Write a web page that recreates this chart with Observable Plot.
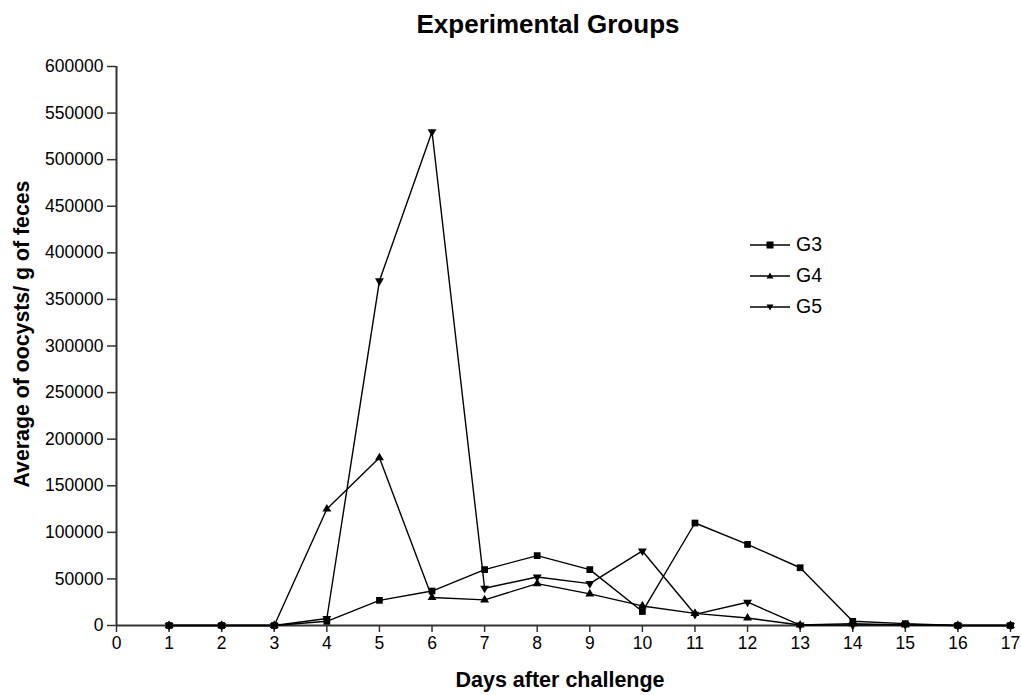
<!DOCTYPE html>
<html>
<head>
<meta charset="utf-8">
<script src="https://cdn.jsdelivr.net/npm/d3@7"></script>
<script src="https://cdn.jsdelivr.net/npm/@observablehq/plot@0.6"></script>
<style>
  html, body { margin: 0; padding: 0; background: #fff; }
  body { font-family: "Liberation Sans", Arial, sans-serif; }
  #wrap { position: relative; width: 1021px; height: 695px; overflow: hidden; }
  #title { position: absolute; left: 248px; width: 600px; top: 11px; text-align: center; line-height: 1;
           font-weight: bold; font-size: 26px; color: #000; white-space: nowrap; }
  #xlabel { position: absolute; left: 260px; width: 600px; top: 670px; text-align: center; line-height: 1;
            font-weight: bold; font-size: 21.5px; color: #000; white-space: nowrap; }
  #ylabel { position: absolute; left: 23px; top: 334px; width: 400px; text-align: center; line-height: 1;
            font-weight: bold; font-size: 21.3px; color: #000;
            transform: translate(-50%, -50%) rotate(-90deg); white-space: nowrap; }
  #legend { position: absolute; left: 750px; top: 229px; font-size: 19.5px; }
  #legend .row { display: flex; align-items: center; height: 31px; }
  #legend svg { margin-right: 6px; }
  #chart { position: absolute; left: 0; top: 0; }
</style>
</head>
<body>
<div id="wrap">
  <div id="chart"></div>
  <div id="title">Experimental Groups</div>
  <div id="xlabel">Days after challenge</div>
  <div id="ylabel">Average of oocysts/ g of feces</div>
  <div id="legend"></div>
</div>
<script>
const days = [1, 2, 3, 4, 5, 6, 7, 8, 9, 10, 11, 12, 13, 14, 15, 16, 17];
const g3 = [0, 0, 0, 4500, 27000, 37000, 60000, 75000, 60000, 15000, 110000, 87000, 62000, 4500, 2000, 0, 0];
const g4 = [0, 0, 0, 125000, 180000, 30000, 27500, 45000, 34000, 21000, 13000, 8000, 500, 2000, 500, 0, 0];
const g5 = [0, 0, 0, 7500, 370000, 530000, 40000, 52000, 45000, 80000, 12000, 25000, 500, 500, 1000, 0, 0];
const groups = ["G3", "G4", "G5"];
const xTicks = d3.range(0, 18);
const yTicks = d3.range(0, 600001, 50000);

const series = { G3: g3, G4: g4, G5: g5 };
const rows = groups.flatMap(g => days.map((d, i) => ({ group: g, day: d, value: series[g][i] })));

const axisColor = "#333";
const chart = Plot.plot({
  width: 1021,
  height: 695,
  marginTop: 66,
  marginBottom: 70,
  marginLeft: 116,
  marginRight: 11,
  style: { fontFamily: "'Liberation Sans', Arial, sans-serif", fontSize: "17.5px", color: "#000", background: "#fff" },
  x: { domain: [0, 17], label: null },
  y: { domain: [0, 600000], label: null },
  marks: [
    Plot.axisX({ ticks: xTicks, tickSize: 7, tickPadding: 4, tickFormat: d => String(d), stroke: axisColor, strokeWidth: 1.5, strokeOpacity: 1, fontSize: 17.5, label: null }),
    Plot.axisY({ ticks: yTicks, tickSize: 9, tickPadding: 4, tickFormat: d => String(d), stroke: axisColor, strokeWidth: 1.5, strokeOpacity: 1, fontSize: 17.5, label: null }),
    Plot.ruleX([0], { stroke: axisColor, strokeWidth: 2 }),
    Plot.ruleY([0], { stroke: axisColor, strokeWidth: 2 }),
    Plot.line(rows, { x: "day", y: "value", z: "group", stroke: "#000", strokeWidth: 1.4 }),
    Plot.dot(rows.filter(r => r.group === "G3"), { x: "day", y: "value", symbol: "square", r: 3.8, fill: "#000", stroke: "none" }),
    Plot.dot(rows.filter(r => r.group === "G4"), { x: "day", y: "value", symbol: "triangle", r: 3.3, fill: "#000", stroke: "none" }),
    Plot.dot(rows.filter(r => r.group === "G5"), { x: "day", y: "value", symbol: "triangle", rotate: 180, r: 3.3, fill: "#000", stroke: "none" })
  ]
});
document.getElementById("chart").appendChild(chart);

// legend
const legendSymbols = {
  G3: '<rect x="16.5" y="5.5" width="7" height="7" fill="#000"/>',
  G4: '<path d="M20,5.5 L23.5,11.5 L16.5,11.5 Z" fill="#000"/>',
  G5: '<path d="M20,12.5 L23.5,6.5 L16.5,6.5 Z" fill="#000"/>'
};
const legend = document.getElementById("legend");
for (const g of groups) {
  const row = document.createElement("div");
  row.className = "row";
  row.innerHTML = `<svg width="40" height="18"><line x1="0" x2="40" y1="9" y2="9" stroke="#000" stroke-width="1.4"/>${legendSymbols[g]}</svg><span>${g}</span>`;
  legend.appendChild(row);
}
</script>
</body>
</html>
